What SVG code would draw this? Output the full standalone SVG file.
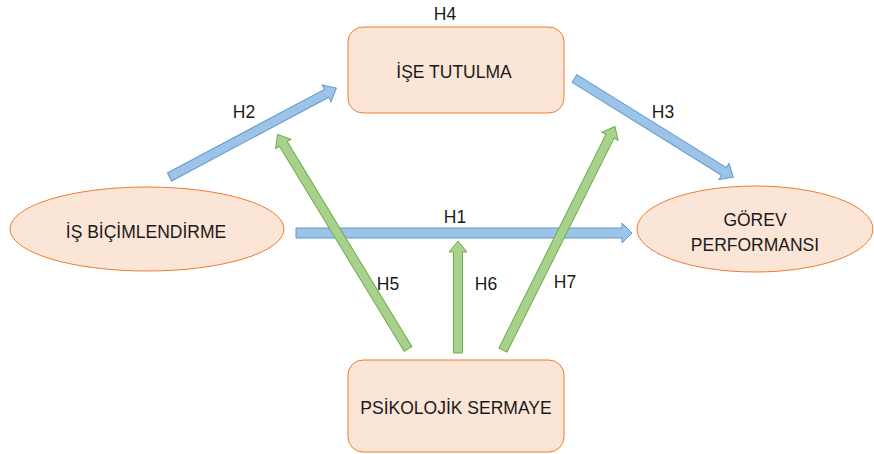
<svg xmlns="http://www.w3.org/2000/svg" width="874" height="454" viewBox="0 0 874 454">
<style>
.node{fill:#FBE5D6;stroke:#ED7D31;stroke-width:1}
.t{font-family:"Liberation Sans",Arial,sans-serif;font-size:17.5px;fill:#1a1a1a;text-anchor:middle}
.lbl{font-family:"Liberation Sans",Arial,sans-serif;font-size:17.5px;fill:#1a1a1a;text-anchor:middle}
.blue{fill:#9DC3E6;stroke:#5B9BD5;stroke-width:1}
.green{fill:#A9D18E;stroke:#70AD47;stroke-width:1}
</style>
<rect width="874" height="454" fill="#fff"/>
<g id="connectors">
  <path class="blue" d="M0,-4.5 H178 V-9.5 L189,0 L178,9.5 V4.5 H0 Z" transform="translate(169.5,177) rotate(-28.05)"/>
  <path class="blue" d="M0,-4.5 H176 V-9.5 L187,0 L176,9.5 V4.5 H0 Z" transform="translate(574.5,78.5) rotate(31.86)"/>
  <path class="blue" d="M0,-5 H326 V-10 L336,0 L326,10 V5 H0 Z" transform="translate(296,233)"/>
  <path class="green" d="M0,-4.5 H240 V-9 L251,0 L240,9 V4.5 H0 Z" transform="translate(408,349) rotate(-121.3)"/>
  <path class="green" d="M0,-4.5 H101 V-9 L112,0 L101,9 V4.5 H0 Z" transform="translate(458,353) rotate(-90)"/>
  <path class="green" d="M0,-4.5 H239 V-9 L250,0 L239,9 V4.5 H0 Z" transform="translate(503,350) rotate(-63.4)"/>
  <text class="lbl" x="445" y="20">H4</text>
  <text class="lbl" x="244" y="118">H2</text>
  <text class="lbl" x="663" y="118">H3</text>
  <text class="lbl" x="455" y="223">H1</text>
  <text class="lbl" x="388" y="290">H5</text>
  <text class="lbl" x="486" y="290">H6</text>
  <text class="lbl" x="565" y="288">H7</text>
</g>
<g id="ise-tutulma">
  <rect class="node" x="348" y="27" width="216" height="86" rx="15"/>
  <text class="t" x="454" y="78">İŞE TUTULMA</text>
</g>
<g id="psikolojik-sermaye">
  <rect class="node" x="348" y="360" width="216" height="92" rx="15"/>
  <text class="t" x="456" y="414">PSİKOLOJİK SERMAYE</text>
</g>
<g id="is-bicimlendirme">
  <ellipse class="node" cx="147" cy="229" rx="137" ry="42"/>
  <text class="t" x="146" y="238">İŞ BİÇİMLENDİRME</text>
</g>
<g id="gorev-performansi">
  <ellipse class="node" cx="755" cy="229" rx="118" ry="43"/>
  <text class="t" x="755" y="226">GÖREV</text>
  <text class="t" x="755" y="251">PERFORMANSI</text>
</g>
</svg>
